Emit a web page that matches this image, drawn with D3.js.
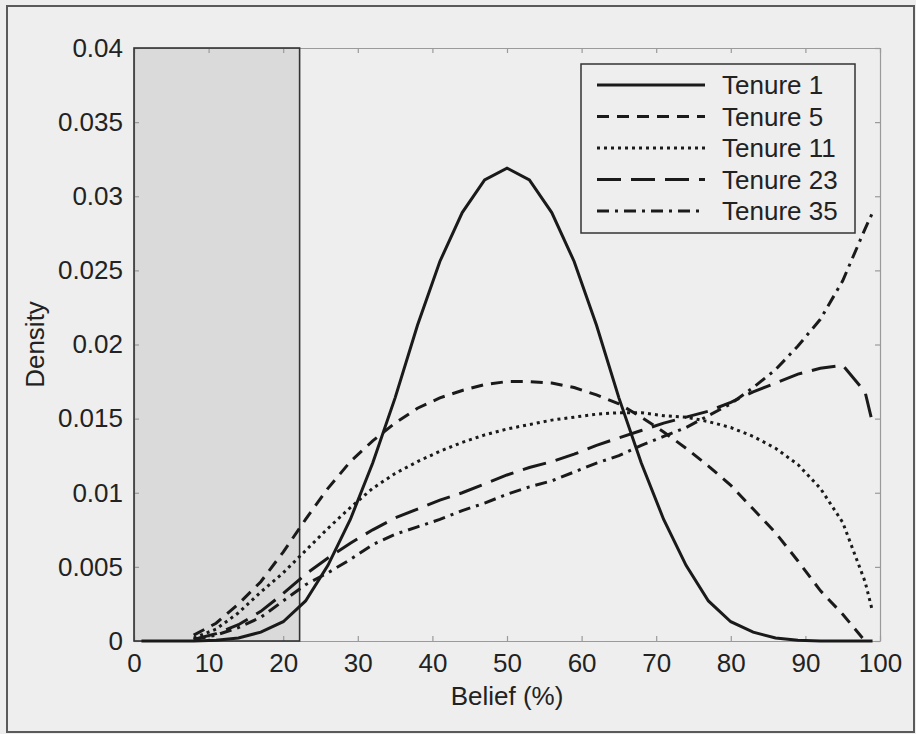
<!DOCTYPE html>
<html>
<head>
<meta charset="utf-8">
<script src="https://cdn.jsdelivr.net/npm/d3@7"></script>
<style>
  body { margin: 0; background: #eeeeee; }
  svg { display: block; font-family: "Liberation Sans", Arial, sans-serif; }
</style>
</head>
<body>
<svg width="916" height="734"></svg>
<script>
// belief grid (%) shared by all series
var belief = [1, 2, 5, 8, 11, 14, 17, 20, 23, 26, 29, 32, 35, 38, 41, 44, 47, 50, 53, 56,
              59, 62, 65, 68, 71, 74, 77, 80, 83, 86, 89, 92, 95, 98, 99];

var tenure1  = [0, 0, 0, 0, 0.00005, 0.0002, 0.0006, 0.0013, 0.0027, 0.0051, 0.0082, 0.0120, 0.0164, 0.0213, 0.0256, 0.0289, 0.0311, 0.0319, 0.0311, 0.0289,
                0.0256, 0.0213, 0.0164, 0.0120, 0.0082, 0.0051, 0.0027, 0.0013, 0.0006, 0.0002, 0.00005, 0, 0, 0, 0];
var tenure5  = [null, null, null, 0.0004, 0.0012, 0.0025, 0.0040, 0.0060, 0.0082, 0.0103, 0.0121, 0.0135, 0.0147, 0.0157, 0.0164, 0.0169, 0.0173, 0.0175, 0.0175, 0.0174,
                0.0171, 0.0166, 0.0160, 0.0151, 0.0141, 0.0130, 0.0118, 0.0105, 0.0089, 0.0073, 0.0054, 0.0034, 0.0018, 0, null];
var tenure11 = [null, null, null, 0.0002, 0.0008, 0.0019, 0.0033, 0.0046, 0.0061, 0.0076, 0.0090, 0.0103, 0.0113, 0.0121, 0.0128, 0.0134, 0.0139, 0.0143, 0.0146, 0.0149,
                0.0151, 0.0153, 0.0154, 0.0154, 0.0152, 0.0151, 0.0148, 0.0144, 0.0138, 0.0130, 0.0119, 0.0103, 0.0080, 0.0040, 0.0020];
var tenure23 = [null, null, null, 0.0001, 0.0005, 0.0011, 0.0020, 0.0032, 0.0045, 0.0056, 0.0066, 0.0075, 0.0083, 0.0089, 0.0095, 0.0100, 0.0106, 0.0112, 0.0117, 0.0121,
                0.0126, 0.0132, 0.0137, 0.0142, 0.0147, 0.0151, 0.0155, 0.0161, 0.0168, 0.0174, 0.0180, 0.0184, 0.0186, 0.0168, 0.0147];
var tenure35 = [null, null, null, 0.0001, 0.0004, 0.0009, 0.0016, 0.0027, 0.0038, 0.0046, 0.0055, 0.0065, 0.0072, 0.0077, 0.0082, 0.0088, 0.0093, 0.0099, 0.0104, 0.0108,
                0.0114, 0.0120, 0.0125, 0.0132, 0.0138, 0.0144, 0.0152, 0.0160, 0.0171, 0.0183, 0.0199, 0.0217, 0.0243, 0.0278, 0.0289];

var seriesNames = ["Tenure 1", "Tenure 5", "Tenure 11", "Tenure 23", "Tenure 35"];
var seriesValues = [tenure1, tenure5, tenure11, tenure23, tenure35];
var dashes = [null, "12,8", "3,4", "24,10", "12,6,3,6"];

var xTicks = [0, 10, 20, 30, 40, 50, 60, 70, 80, 90, 100];
var yTicks = [0, 0.005, 0.01, 0.015, 0.02, 0.025, 0.03, 0.035, 0.04];
var shadedUpTo = 22.2;

var svg = d3.select("svg");

var x = d3.scaleLinear().domain([0, 100]).range([134, 880]);
var y = d3.scaleLinear().domain([0, 0.04]).range([641, 48]);

// outer figure frame
svg.append("rect")
    .attr("x", 7).attr("y", 6).attr("width", 907).attr("height", 726)
    .style("fill", "#eeeeee").style("stroke", "#5a5a5a").style("stroke-width", 2);

// shaded area
svg.append("rect")
    .attr("x", x(0)).attr("y", y(0.04))
    .attr("width", x(shadedUpTo) - x(0)).attr("height", y(0) - y(0.04))
    .style("fill", "#dadada");

// axes (box with inward ticks)
function styleAxis(g) {
    g.select(".domain").style("stroke", "#9a9a9a").style("stroke-width", 1.2);
    g.selectAll(".tick line").style("stroke", "#9a9a9a").style("stroke-width", 1.2);
    g.selectAll("text").style("font-size", "26px").style("fill", "#222")
        .style("font-family", "'Liberation Sans', Arial, sans-serif");
}

svg.append("g").attr("transform", "translate(0," + y(0) + ")")
    .call(d3.axisBottom(x).tickValues(xTicks).tickSize(-5).tickSizeOuter(0).tickPadding(13))
    .call(styleAxis);
svg.append("g").attr("transform", "translate(0," + y(0.04) + ")")
    .call(d3.axisTop(x).tickValues(xTicks).tickSize(-5).tickSizeOuter(0).tickFormat(""))
    .call(styleAxis);
svg.append("g").attr("transform", "translate(" + x(0) + ",0)")
    .call(d3.axisLeft(y).tickValues(yTicks).tickSize(-5).tickSizeOuter(0).tickPadding(11)
        .tickFormat(function(d) { return d === 0 ? "0" : d3.format("")(+d.toFixed(3)); }))
    .call(styleAxis);
svg.append("g").attr("transform", "translate(" + x(100) + ",0)")
    .call(d3.axisRight(y).tickValues(yTicks).tickSize(-5).tickSizeOuter(0).tickFormat(""))
    .call(styleAxis);

// shaded area border
svg.append("rect")
    .attr("x", x(0)).attr("y", y(0.04))
    .attr("width", x(shadedUpTo) - x(0)).attr("height", y(0) - y(0.04))
    .style("fill", "none").style("stroke", "#333").style("stroke-width", 1.6);

// axis titles
svg.append("text")
    .attr("x", (x(0) + x(100)) / 2).attr("y", 705)
    .attr("text-anchor", "middle")
    .style("font-size", "26px").style("fill", "#222")
    .text("Belief (%)");
svg.append("text")
    .attr("transform", "translate(44," + (y(0) + y(0.04)) / 2 + ") rotate(-90)")
    .attr("text-anchor", "middle")
    .style("font-size", "26px").style("fill", "#222")
    .text("Density");

// curves
var line = d3.line()
    .defined(function(d) { return d[1] !== null; })
    .x(function(d) { return x(d[0]); })
    .y(function(d) { return y(d[1]); });

seriesValues.forEach(function(vals, i) {
    var pts = belief.map(function(b, j) { return [b, vals[j]]; });
    svg.append("path")
        .datum(pts)
        .attr("d", line)
        .style("fill", "none")
        .style("stroke", "#1a1a1a")
        .style("stroke-width", 3)
        .style("stroke-dasharray", dashes[i]);
});

// legend
var legend = svg.append("g");
legend.append("rect")
    .attr("x", 581).attr("y", 64).attr("width", 274).attr("height", 169)
    .style("fill", "#eeeeee").style("stroke", "#333").style("stroke-width", 1.5);

seriesNames.forEach(function(name, i) {
    var cy = 85 + i * 31.5;
    legend.append("line")
        .attr("x1", 597).attr("x2", 705).attr("y1", cy).attr("y2", cy)
        .style("stroke", "#1a1a1a").style("stroke-width", 3)
        .style("stroke-dasharray", dashes[i]);
    legend.append("text")
        .attr("x", 722).attr("y", cy + 9)
        .style("font-size", "26px").style("fill", "#222")
        .text(name);
});
</script>
</body>
</html>
